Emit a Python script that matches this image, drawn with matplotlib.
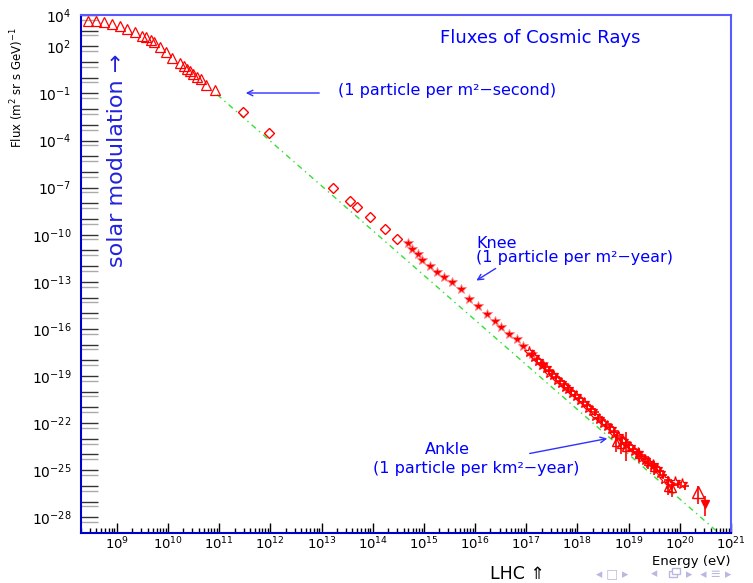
import numpy as np
import matplotlib
matplotlib.use("Agg")
import matplotlib.pyplot as plt
from matplotlib.ticker import FixedLocator, NullFormatter
from matplotlib.patches import Rectangle

# log10(E/eV), log10(flux)
tri_logE = [8.43, 8.59, 8.75, 8.90, 9.06, 9.20, 9.35, 9.49, 9.57, 9.67, 9.72, 9.84,
            9.96, 10.08, 10.23, 10.31, 10.37, 10.43, 10.49, 10.57, 10.64, 10.74, 10.92]
tri_logF = [3.60, 3.60, 3.55, 3.43, 3.30, 3.12, 2.93, 2.69, 2.57, 2.38, 2.25, 1.93,
            1.61, 1.29, 0.97, 0.72, 0.59, 0.46, 0.27, 0.08, -0.11, -0.43, -0.81]

dia_logE = [11.47, 11.97, 13.23, 13.56, 13.70, 13.95, 14.24, 14.48]
dia_logF = [-2.21, -3.55, -7.05, -7.82, -8.26, -8.90, -9.66, -10.24]

star_logE = [14.68, 14.77, 14.88, 14.97, 15.11, 15.26, 15.40, 15.54, 15.73, 15.89,
             16.05, 16.24, 16.38, 16.51, 16.67, 16.81, 16.93, 17.12, 17.32]
star_logF = [-10.55, -10.94, -11.25, -11.58, -12.02, -12.40, -12.72, -13.04, -13.48, -14.12,
             -14.57, -15.08, -15.52, -15.90, -16.35, -16.67, -17.11, -17.62, -18.26]

band_logE = [17.05, 17.15, 17.22, 17.30, 17.38, 17.45, 17.52, 17.60, 17.68, 17.75,
             17.82, 17.90, 17.97, 18.05, 18.12, 18.20, 18.28, 18.35, 18.42, 18.50,
             18.57, 18.65, 18.72, 18.80, 18.88, 18.95, 19.02, 19.10, 19.18, 19.25,
             19.32, 19.40, 19.48, 19.55, 19.62, 19.70, 19.78, 19.90, 20.04]
band_logF = [-17.50, -17.80, -18.05, -18.30, -18.50, -18.78, -18.95, -19.25, -19.42, -19.70,
             -19.85, -20.10, -20.28, -20.55, -20.72, -21.02, -21.22, -21.55, -21.72, -22.02,
             -22.18, -22.40, -22.70, -22.85, -23.15, -23.30, -23.55, -23.78, -23.92, -24.20,
             -24.35, -24.55, -24.70, -24.95, -25.20, -25.55, -25.85, -25.78, -25.90]

# points with error bars: value, lower end, upper end (log10)
err_logE = [18.75, 18.86, 18.94, 19.20, 19.37, 19.50, 19.76, 19.84]
err_logF = [-23.23, -23.30, -23.55, -24.00, -24.44, -24.80, -26.10, -26.15]
err_lo = [-23.87, -24.00, -24.44, -24.40, -24.90, -25.30, -26.55, -26.70]
err_hi = [-22.85, -22.90, -22.59, -23.60, -24.10, -24.40, -25.75, -25.85]

# highest energy events
top_logE = [20.35, 20.49]
top_logF = [-26.41, -27.18]
top_lo = [-27.18, -27.94]
top_hi = [-26.03, -26.67]

# E^-2.85 reference line
fit_logE = [10.96, 20.70]
fit_logF = [-1.07, -28.83]

ylab_exp = [4, 2, -1, -4, -7, -10, -13, -16, -19, -22, -25, -28]

red = "#ff0000"
blue = "#0000ff"

def p(a):
    return 10.0 ** np.asarray(a)

fig = plt.figure(figsize=(7.53, 5.83), dpi=100)
ax = fig.add_axes([0.1076, 0.0858, 0.8632, 0.8885])

ax.plot(p(fit_logE), p(fit_logF), color="#33e033", ls=(0, (4, 3, 1, 3)), lw=1.0, zorder=1)

ax.plot(p(tri_logE), p(tri_logF), ls="none", marker="^", ms=6.5, mfc="none", mec=red, mew=0.9)
ax.plot(p(dia_logE), p(dia_logF), ls="none", marker="D", ms=5, mfc="none", mec=red, mew=1.0)
ax.plot(p(star_logE), p(star_logF), ls="none", marker="*", ms=7, color=red, mec="#ff8080", mew=0.6)
ax.plot(p(band_logE), p(band_logF), ls="none", marker="*", ms=8, mfc="none", mec=red, mew=0.9)
ax.plot(p(band_logE) * 1.15, p(band_logF) * 0.8, ls="none", marker="+", ms=6, color=red, mew=1.2)

F = p(err_logF)
ax.errorbar(p(err_logE), F, yerr=[F - p(err_lo), p(err_hi) - F], fmt="^", ms=6,
            mfc="none", mec=red, ecolor=red, elinewidth=1.2, capsize=0)
Ft = p(top_logF)
ax.errorbar(p(top_logE[:1]), Ft[:1], yerr=[Ft[:1] - p(top_lo[:1]), p(top_hi[:1]) - Ft[:1]],
            fmt="^", ms=8, mfc="none", mec=red, ecolor=red, elinewidth=1.2, capsize=0)
ax.errorbar(p(top_logE[1:]), Ft[1:], yerr=[Ft[1:] - p(top_lo[1:]), p(top_hi[1:]) - Ft[1:]],
            fmt="v", ms=6, color=red, ecolor=red, elinewidth=1.2, capsize=0)

ax.set_xscale("log")
ax.set_yscale("log")
ax.set_xlim(2e8, 1e21)
ax.set_ylim(1e-29, 1e4)

ax.xaxis.set_major_locator(FixedLocator([10.0 ** k for k in range(9, 22)]))
ax.xaxis.set_minor_locator(FixedLocator([m * 10.0 ** k for k in range(8, 21) for m in range(2, 10)]))
ax.set_xticklabels(["$10^{%d}$" % k for k in range(9, 22)])
ax.xaxis.set_minor_formatter(NullFormatter())

ax.yaxis.set_major_locator(FixedLocator([10.0 ** k for k in range(-28, 5)]))
ax.yaxis.set_minor_locator(FixedLocator([5 * 10.0 ** k for k in range(-29, 4)]))
ax.set_yticklabels(["$10^{%d}$" % k if k in ylab_exp else "" for k in range(-28, 5)])
ax.yaxis.set_minor_formatter(NullFormatter())

ax.tick_params(axis="x", which="major", direction="in", length=7, width=1, pad=2,
               labelsize=9.5, top=False)
ax.tick_params(axis="x", which="minor", direction="in", length=3.5, width=1, top=False)
ax.tick_params(axis="y", which="major", direction="in", length=12, width=1, pad=7,
               labelsize=10, right=False, color="#333333")
ax.tick_params(axis="y", which="minor", direction="in", length=12, width=1, right=False,
               color="#aaaaaa")

ax.spines["left"].set_color("#0000cc")
ax.spines["bottom"].set_color("#0000cc")
ax.spines["top"].set_color("#5a5aff")
ax.spines["right"].set_color("#5a5aff")
for s in ax.spines.values():
    s.set_linewidth(1.5)

ax.set_ylabel("Flux (m$^2$ sr s GeV)$^{-1}$", fontsize=8.5)
ax.yaxis.set_label_coords(-0.085, 0.86)
fig.text(730 / 753, 1 - 562 / 583, "Energy (eV)", ha="right", va="center", fontsize=9.5)

fig.text(540 / 753, 1 - 38 / 583, "Fluxes of Cosmic Rays", ha="center", va="center",
         color=blue, fontsize=13)

fig.text(117 / 753, 1 - 160 / 583, "solar modulation \u2192", ha="center", va="center",
         rotation=90, color="#2222dd", fontsize=16)

fig.text(338 / 753, 1 - 91 / 583, "(1 particle per m\u00b2\u2212second)", ha="left", va="center",
         color=blue, fontsize=11.5)
fig.text(476 / 753, 1 - 236 / 583, "Knee\n(1 particle per m\u00b2\u2212year)", ha="left", va="top",
         color=blue, fontsize=11.5, linespacing=0.95)
fig.text(447 / 753, 1 - 449 / 583, "Ankle", ha="center", va="center", color=blue, fontsize=11.5)
fig.text(373 / 753, 1 - 468 / 583, "(1 particle per km\u00b2\u2212year)", ha="left", va="center",
         color=blue, fontsize=11.5)

arrow = dict(arrowstyle="->", color="#3030ff", lw=1.0)
ax.annotate("", xy=(243, 583 - 93), xytext=(322, 583 - 93), xycoords="figure pixels",
            textcoords="figure pixels", arrowprops=arrow)
ax.annotate("", xy=(474, 583 - 282), xytext=(498, 583 - 267), xycoords="figure pixels",
            textcoords="figure pixels", arrowprops=arrow)
ax.annotate("", xy=(610, 583 - 438), xytext=(527, 583 - 454), xycoords="figure pixels",
            textcoords="figure pixels", arrowprops=arrow)

fig.text(490 / 753, 1 - 574 / 583, "LHC \u21d1", ha="left", va="center", fontsize=12.5)

# beamer navigation symbols
nav = "#b8b8e0"
fig.text(596 / 753, 1 - 574 / 583, "\u25c2 \u25a1 \u25b8", ha="left", va="center", fontsize=9, color=nav)
fig.text(651 / 753, 1 - 574 / 583, "\u25c2", ha="left", va="center", fontsize=9, color=nav)
fig.text(686 / 753, 1 - 574 / 583, "\u25b8  \u25c2 \u2261 \u25b8", ha="left", va="center",
         fontsize=9, color=nav)
for dx, dy in [(0, 0), (3, 3)]:
    fig.patches.append(Rectangle((669 + dx, 6 + dy), 8, 6, transform=None,
                                 fc="white", ec=nav, lw=1.0))

fig.savefig("out.png", dpi=100)
